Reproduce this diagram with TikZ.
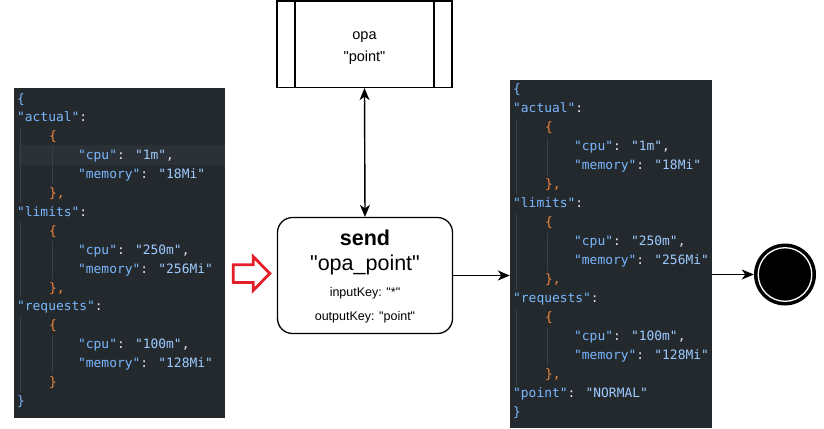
\documentclass[tikz,border=0pt]{standalone}
\usepackage{fontspec}
\setmainfont{Liberation Sans}[Ligatures=TeXOff]
\newfontfamily\codefont{DejaVu Sans Mono}
\usetikzlibrary{arrows.meta}
\definecolor{panelbg}{HTML}{24292E}
\definecolor{hlbg}{HTML}{2C3137}
\definecolor{guidec}{HTML}{3A3F46}
\definecolor{keyc}{HTML}{79B8FF}
\definecolor{valc}{HTML}{9ECBFF}
\definecolor{punc}{HTML}{E1E4E8}
\definecolor{bracec}{HTML}{F0883E}
\definecolor{arrowred}{HTML}{E3202A}
\newcommand\jk[1]{\textcolor{keyc}{"#1"}}
\newcommand\jv[1]{\textcolor{valc}{"#1"}}
\newcommand\jp[1]{\textcolor{punc}{#1}}
\newcommand\jb[1]{\textcolor{bracec}{#1}}
\newcommand\jo[1]{\textcolor{keyc}{#1}}
\begin{document}
\begin{tikzpicture}[x=1bp,y=-1bp,
  codeline/.style={anchor=base west, inner sep=0pt, font=\codefont\fontsize{12.9bp}{14bp}\selectfont},
  panel/.style={fill=panelbg, draw=none, inner sep=0pt},
  guide/.style={draw=guidec, line width=0.8bp},
  arr/.style={-{Stealth[length=12bp,width=10bp,inset=3.5bp]}, line width=1.4bp},
  dblarr/.style={{Stealth[length=12bp,width=10bp,inset=3.5bp]}-{Stealth[length=12bp,width=10bp,inset=3.5bp]}, line width=1.4bp},
  boxline/.style={draw=black, line width=1.3bp, inner sep=0pt},
  lbl/.style={anchor=base, inner sep=0pt}]
\useasboundingbox (0,0) rectangle (824,428);

% ---------------- left panel ----------------
\node[panel, minimum width=211bp, minimum height=329.5bp] (lpanel) at (119.5,252.75) {};
\fill[hlbg] (19,145) rectangle (225,164.5);
% indent guides
\foreach \a/\b in {2/5,7/10,12/15} \draw[guide] (20,{99+18.9*\a-9.4}) -- (20,{99+18.9*\b+9.4});
\foreach \a/\b in {3/4,8/9,13/14} \draw[guide] (52,{99+18.9*\a-9.4}) -- (52,{99+18.9*\b+9.4});
\node[codeline] (l0)  at (17,103.0) {\jo{\{}};
\node[codeline] (l1)  at (17,121.9) {\jk{actual}\jp{:}};
\node[codeline] (l2)  at (49,140.8) {\jb{\{}};
\node[codeline] (l3)  at (78,159.7) {\jk{cpu}\jp{: }\jv{1m}\jp{,}};
\node[codeline] (l4)  at (78,178.6) {\jk{memory}\jp{: }\jv{18Mi}};
\node[codeline] (l5)  at (49,197.5) {\jb{\},}};
\node[codeline] (l6)  at (17,216.4) {\jk{limits}\jp{:}};
\node[codeline] (l7)  at (49,235.3) {\jb{\{}};
\node[codeline] (l8)  at (78,254.2) {\jk{cpu}\jp{: }\jv{250m}\jp{,}};
\node[codeline] (l9)  at (78,273.1) {\jk{memory}\jp{: }\jv{256Mi}};
\node[codeline] (l10) at (49,292.0) {\jb{\},}};
\node[codeline] (l11) at (17,310.9) {\jk{requests}\jp{:}};
\node[codeline] (l12) at (49,329.8) {\jb{\{}};
\node[codeline] (l13) at (78,348.7) {\jk{cpu}\jp{: }\jv{100m}\jp{,}};
\node[codeline] (l14) at (78,367.6) {\jk{memory}\jp{: }\jv{128Mi}};
\node[codeline] (l15) at (49,386.5) {\jb{\}}};
\node[codeline] (l16) at (17,405.4) {\jo{\}}};

% ---------------- right panel ----------------
\node[panel, minimum width=202bp, minimum height=348.5bp] (rpanel) at (611,253.75) {};
\foreach \a/\b in {2/5,7/10,12/15} \draw[guide] (516,{90+19*\a-9.5}) -- (516,{90+19*\b+9.5});
\foreach \a/\b in {3/4,8/9,13/14} \draw[guide] (547,{90+19*\a-9.5}) -- (547,{90+19*\b+9.5});
\node[codeline] (r0)  at (513,93.5)  {\jo{\{}};
\node[codeline] (r1)  at (513,112.5) {\jk{actual}\jp{:}};
\node[codeline] (r2)  at (545,131.5) {\jb{\{}};
\node[codeline] (r3)  at (574,150.5) {\jk{cpu}\jp{: }\jv{1m}\jp{,}};
\node[codeline] (r4)  at (574,169.5) {\jk{memory}\jp{: }\jv{18Mi}};
\node[codeline] (r5)  at (545,188.5) {\jb{\},}};
\node[codeline] (r6)  at (513,207.5) {\jk{limits}\jp{:}};
\node[codeline] (r7)  at (545,226.5) {\jb{\{}};
\node[codeline] (r8)  at (574,245.5) {\jk{cpu}\jp{: }\jv{250m}\jp{,}};
\node[codeline] (r9)  at (574,264.5) {\jk{memory}\jp{: }\jv{256Mi}};
\node[codeline] (r10) at (545,283.5) {\jb{\},}};
\node[codeline] (r11) at (513,302.5) {\jk{requests}\jp{:}};
\node[codeline] (r12) at (545,321.5) {\jb{\{}};
\node[codeline] (r13) at (574,340.5) {\jk{cpu}\jp{: }\jv{100m}\jp{,}};
\node[codeline] (r14) at (574,359.5) {\jk{memory}\jp{: }\jv{128Mi}};
\node[codeline] (r15) at (545,378.5) {\jb{\},}};
\node[codeline] (r16) at (513,397.5) {\jk{point}\jp{: }\jv{NORMAL}};
\node[codeline] (r17) at (513,416.5) {\jo{\}}};

% ---------------- opa box ----------------
\node[boxline, minimum width=175bp, minimum height=86.5bp] (opa) at (364.5,44.2) {};
\draw[line width=1.3bp] (295,0.95) -- (295,87.45);
\draw[line width=1.3bp] (434,0.95) -- (434,87.45);
\node[lbl, font=\fontsize{14.5bp}{17bp}\selectfont] (opat1) at (364.5,39.5) {opa};
\node[lbl, font=\fontsize{14.5bp}{17bp}\selectfont] (opat2) at (364.5,61.5) {"point"};

% ---------------- send box ----------------
\node[boxline, rounded corners=15bp, minimum width=175bp, minimum height=116bp] (send) at (365,275.5) {};
\node[lbl, font=\bfseries\fontsize{21.5bp}{24bp}\selectfont] (sendt) at (365,245) {send};
\node[lbl, font=\fontsize{21.5bp}{24bp}\selectfont] (sendn) at (365,270.5) {"opa\_point"};
\node[lbl, font=\fontsize{12.5bp}{15bp}\selectfont] (sendi) at (365,296) {inputKey: "*"};
\node[lbl, font=\fontsize{12.5bp}{15bp}\selectfont] (sendo) at (365,320) {outputKey: "point"};

% ---------------- red hollow arrow ----------------
\draw[arrowred, fill=white, line width=2.8bp, line join=miter]
  (233.2,264.7) -- (253.2,264.7) -- (253.2,256.5) -- (269.8,273.5) -- (253.2,290.5)
  -- (253.2,282.5) -- (233.2,282.5) -- cycle;

% ---------------- end state ----------------
\node[circle, fill=black, minimum size=62bp, inner sep=0pt] (end) at (785,274.5) {};
\draw[white, line width=1.3bp] (end.center) circle [radius=26.8bp];

% ---------------- connectors ----------------
\draw[dblarr] (opa.south) -- (send.north);
\draw[arr] (send.east) -- (send.east -| rpanel.west);
\draw[arr] (rpanel.east |- end.west) -- (end.west);
\end{tikzpicture}
\end{document}
